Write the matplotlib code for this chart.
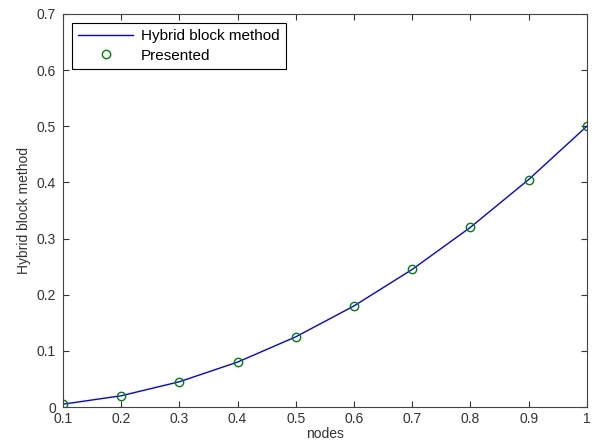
import matplotlib.pyplot as plt

plt.rcParams['font.family'] = ['Liberation Sans', 'DejaVu Sans']

# nodes and values
nodes = [0.1, 0.2, 0.3, 0.4, 0.5, 0.6, 0.7, 0.8, 0.9, 1.0]
hybrid = [0.005, 0.02, 0.045, 0.08, 0.125, 0.18, 0.245, 0.32, 0.405, 0.5]
presented = [0.005, 0.02, 0.045, 0.08, 0.125, 0.18, 0.245, 0.32, 0.405, 0.5]

fig = plt.figure(figsize=(5.97, 4.48), dpi=100)
ax = fig.add_axes([0.1055, 0.0915, 0.8775, 0.8775])

ax.plot(nodes, hybrid, color='blue', lw=1, label='Hybrid block method')
ax.plot(nodes, presented, 'o', mfc='none', mec='green', ms=6, mew=1,
        label='Presented')

ax.set_xlim(0.1, 1)
ax.set_ylim(0, 0.7)
ax.set_xticks([0.1, 0.2, 0.3, 0.4, 0.5, 0.6, 0.7, 0.8, 0.9, 1])
ax.set_xticklabels(['0.1', '0.2', '0.3', '0.4', '0.5', '0.6', '0.7', '0.8', '0.9', '1'])
ax.set_yticks([0, 0.1, 0.2, 0.3, 0.4, 0.5, 0.6, 0.7])
ax.set_yticklabels(['0', '0.1', '0.2', '0.3', '0.4', '0.5', '0.6', '0.7'])
ax.tick_params(direction='in', top=True, right=True, labelsize=10,
               length=4, color='#333333', labelcolor='#333333')
ax.tick_params(axis='y', pad=5)
for s in ax.spines.values():
    s.set_color('#444444')

ax.set_xlabel('nodes', fontsize=10, labelpad=1, color='#333333')
ax.set_ylabel('Hybrid block method', fontsize=10, labelpad=4, color='#333333')

leg = ax.legend(loc='upper left', fontsize=11, fancybox=False, framealpha=1,
                edgecolor='black', borderaxespad=0.6, handlelength=3.6,
                labelspacing=0.35, borderpad=0.4, handletextpad=0.5)
leg.get_frame().set_linewidth(0.8)

fig.savefig('out.png', dpi=100)
